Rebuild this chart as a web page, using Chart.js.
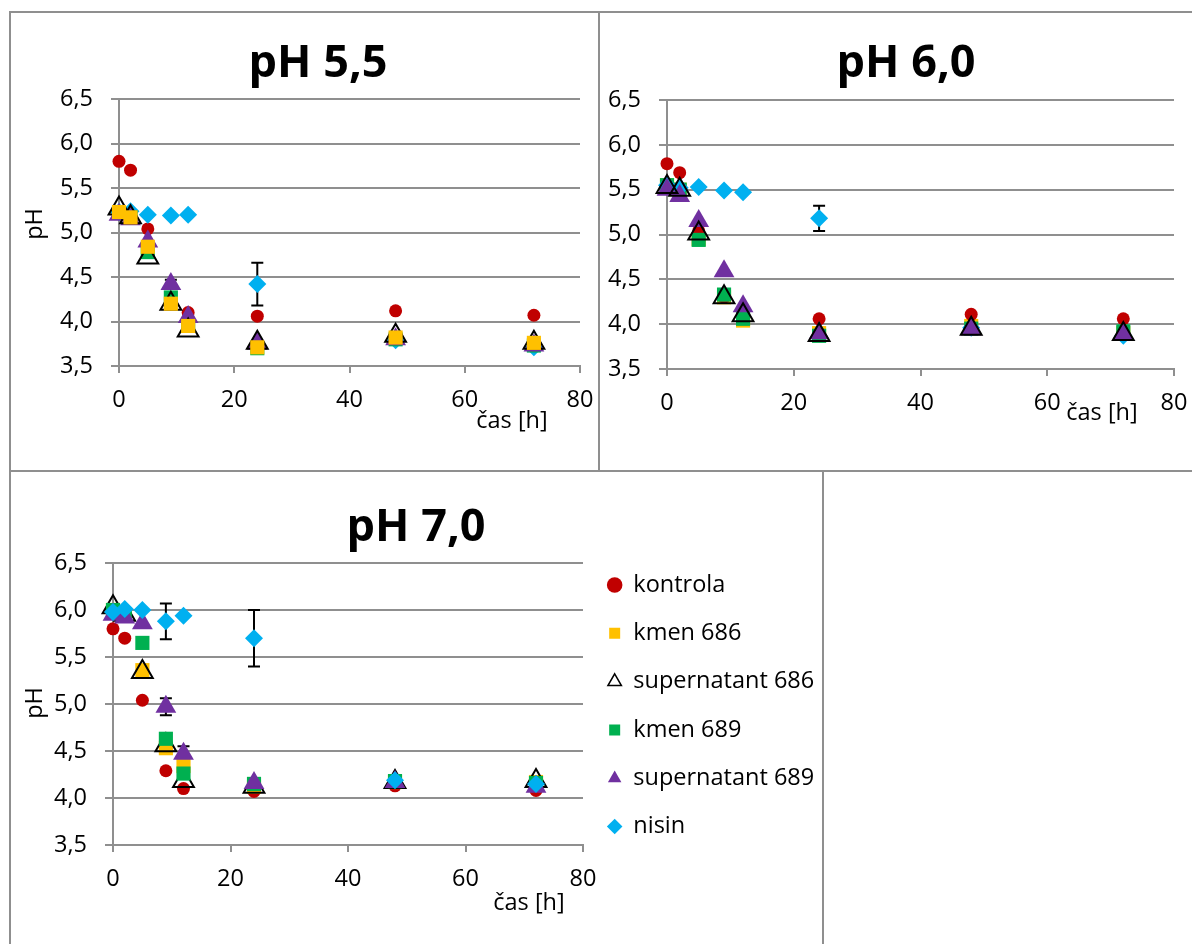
<!DOCTYPE html>
<html>
<head>
<meta charset="utf-8">
<script src="https://cdn.jsdelivr.net/npm/chart.js@4/dist/chart.umd.min.js"></script>
<style>
  body { margin: 0; background: #fff; width: 1192px; height: 944px; position: relative; overflow: hidden; }
  canvas { position: absolute; }
  .line { position: absolute; background: #8f8f8f; z-index: 2; }
</style>
</head>
<body>
<canvas id="c55" width="587" height="457" style="left:11px;top:13px"></canvas>
<canvas id="c60" width="592" height="457" style="left:600px;top:13px"></canvas>
<canvas id="c70" width="1181" height="472" style="left:11px;top:472px"></canvas>

<div class="line" style="left:9px;top:11px;width:1183px;height:2px"></div>
<div class="line" style="left:9px;top:11px;width:2px;height:933px"></div>
<div class="line" style="left:598px;top:11px;width:2px;height:461px"></div>
<div class="line" style="left:9px;top:470px;width:1183px;height:2px"></div>
<div class="line" style="left:822px;top:470px;width:2px;height:474px"></div>

<script>
// sampling times [h]
const hours = [0, 2, 5, 9, 12, 24, 48, 72];
const xTicks = [0, 20, 40, 60, 80];
const yTicks = [3.5, 4.0, 4.5, 5.0, 5.5, 6.0, 6.5];
const seriesNames = ['kontrola', 'kmen 686', 'supernatant 686', 'kmen 689', 'supernatant 689', 'nisin'];

// pH 5,5
const kontrola55 = [5.80, 5.70, 5.04, 4.20, 4.10, 4.06, 4.12, 4.07];
const kmen686_55 = [5.23, 5.17, 4.84, 4.20, 3.95, 3.71, 3.82, 3.76];
const super686_55 = [5.27, 5.17, 4.72, 4.20, 3.90, 3.76, 3.84, 3.76];
const kmen689_55 = [5.22, 5.17, 4.78, 4.27, 3.95, 3.70, 3.80, 3.73];
const super689_55 = [5.20, 5.15, 4.90, 4.42, 4.05, 3.75, 3.80, 3.73];
const nisin55 = [5.23, 5.24, 5.20, 5.19, 5.20, 4.42, 3.79, 3.71];
const super689Err55 = [0, 0, 0, 0.05, 0, 0, 0, 0];
const nisinErr55 = [0, 0, 0, 0, 0, 0.24, 0, 0];

// pH 6,0
const kontrola60 = [5.79, 5.69, 5.04, 4.30, 4.10, 4.06, 4.11, 4.06];
const kmen686_60 = [5.55, 5.50, 4.95, 4.30, 4.04, 3.90, 3.98, 3.90];
const super686_60 = [5.53, 5.50, 5.01, 4.30, 4.10, 3.88, 3.95, 3.89];
const kmen689_60 = [5.55, 5.50, 4.94, 4.33, 4.06, 3.87, 3.95, 3.92];
const super689_60 = [5.50, 5.43, 5.15, 4.59, 4.20, 3.90, 3.94, 3.90];
const nisin60 = [5.55, 5.52, 5.53, 5.49, 5.47, 5.18, 3.96, 3.87];
const nisinErr60 = [0, 0, 0, 0, 0, 0.14, 0, 0];

// pH 7,0
const kontrola70 = [5.80, 5.70, 5.04, 4.29, 4.10, 4.07, 4.13, 4.08];
const kmen686_70 = [6.00, 5.95, 5.36, 4.53, 4.34, 4.12, 4.17, 4.17];
const super686_70 = [6.03, 5.95, 5.34, 4.56, 4.18, 4.12, 4.17, 4.18];
const kmen689_70 = [6.00, 5.95, 5.65, 4.63, 4.26, 4.15, 4.18, 4.16];
const super689_70 = [5.95, 5.92, 5.86, 4.97, 4.47, 4.16, 4.17, 4.12];
const nisin70 = [5.98, 6.01, 6.00, 5.88, 5.94, 5.70, 4.19, 4.15];
const super689Err70 = [0, 0, 0, 0.09, 0.08, 0, 0, 0];
const nisinErr70 = [0, 0, 0, 0.19, 0, 0.30, 0, 0];

const FONT = '"Open Sans", "DejaVu Sans", sans-serif';
const FS = 23.5;
const GRID = '#8f8f8f';

const markers = [
  { pointStyle: 'circle',   radius: 6.5, bg: '#c00000', border: '#c00000', bw: 0 },
  { pointStyle: 'rect',     radius: 10,  bg: '#ffc000', border: '#ffc000', bw: 0 },
  { pointStyle: 'triangle', radius: 12,  bg: 'rgba(0,0,0,0)', border: '#000000', bw: 2 },
  { pointStyle: 'rect',     radius: 10,  bg: '#00b050', border: '#00b050', bw: 0 },
  { pointStyle: 'triangle', radius: 12,  bg: '#7030a0', border: '#7030a0', bw: 0 },
  { pointStyle: 'rectRot',  radius: 9,   bg: '#00b0f0', border: '#00b0f0', bw: 0 }
];

function toPoints(values) {
  return hours.map((h, i) => ({ x: h, y: values[i] }));
}

// drawOrder: lower number is drawn on top
function makeDatasets(series, errors, drawOrder) {
  return series.map((values, i) => ({
    label: seriesNames[i],
    data: toPoints(values),
    errors: errors[i] || null,
    showLine: false,
    clip: false,
    order: drawOrder[i],
    pointStyle: markers[i].pointStyle,
    pointRadius: markers[i].radius,
    pointHoverRadius: markers[i].radius,
    backgroundColor: markers[i].bg,
    borderColor: markers[i].border,
    pointBorderWidth: markers[i].bw,
    borderWidth: markers[i].bw
  }));
}

// vertical error bars with caps, under the markers
const errorBars = {
  id: 'errorBars',
  beforeDatasetsDraw(chart) {
    const { ctx, scales: { x, y } } = chart;
    ctx.save();
    ctx.strokeStyle = '#000';
    ctx.lineWidth = 2;
    chart.data.datasets.forEach(ds => {
      if (!ds.errors) return;
      ds.data.forEach((p, i) => {
        const e = ds.errors[i];
        if (!e) return;
        const px = x.getPixelForValue(p.x);
        const top = y.getPixelForValue(p.y + e);
        const bot = y.getPixelForValue(p.y - e);
        ctx.beginPath();
        ctx.moveTo(px, top); ctx.lineTo(px, bot);
        ctx.moveTo(px - 6, top); ctx.lineTo(px + 6, top);
        ctx.moveTo(px - 6, bot); ctx.lineTo(px + 6, bot);
        ctx.stroke();
      });
    });
    ctx.restore();
  }
};

// panel heading and axis captions
const panelText = {
  id: 'panelText',
  afterDraw(chart, args, opts) {
    const ctx = chart.ctx;
    ctx.save();
    ctx.fillStyle = '#000';
    ctx.textAlign = 'center';
    ctx.textBaseline = 'alphabetic';
    ctx.font = 'bold 45px ' + FONT;
    ctx.fillText(opts.title, opts.titleX, opts.titleY);
    ctx.textBaseline = 'middle';
    ctx.font = FS + 'px ' + FONT;
    ctx.fillText('čas [h]', opts.xLabelX, opts.xLabelY);
    if (opts.yLabel) {
      ctx.translate(opts.yLabelX, opts.yLabelY);
      ctx.rotate(-Math.PI / 2);
      ctx.fillText('pH', 0, 0);
    }
    ctx.restore();
  }
};

// area: left/top/right/bottom of the plot area in canvas pixels
function makeChart(id, datasets, cfg) {
  const canvas = document.getElementById(id);
  const a = cfg.area;
  return new Chart(canvas, {
    type: 'scatter',
    data: { datasets },
    plugins: [errorBars, panelText],
    options: {
      responsive: false,
      animation: false,
      layout: { padding: cfg.padding || 0 },
      plugins: {
        legend: cfg.legend || { display: false },
        tooltip: { enabled: false },
        panelText: cfg.text
      },
      scales: {
        x: {
          type: 'linear', min: 0, max: 80,
          afterBuildTicks: s => { s.ticks = xTicks.map(v => ({ value: v })); },
          afterFit: s => {
            s.height = canvas.height - a.bottom;
            s.paddingLeft = 0;
            s.paddingRight = canvas.width - a.right;
          },
          border: { color: GRID, width: 2 },
          grid: { drawOnChartArea: false, drawTicks: true, tickLength: 7, color: GRID, lineWidth: 2 },
          ticks: { color: '#000', font: { family: FONT, size: FS }, padding: 13 }
        },
        y: {
          type: 'linear', min: 3.5, max: 6.5,
          afterBuildTicks: s => { s.ticks = yTicks.map(v => ({ value: v })); },
          afterFit: s => {
            s.width = a.left;
            s.paddingTop = a.top;
            s.paddingBottom = 0;
          },
          border: { color: GRID, width: 2 },
          grid: { color: GRID, lineWidth: 2, tickLength: 8 },
          ticks: {
            color: '#000', font: { family: FONT, size: FS }, padding: 18,
            callback: v => v.toFixed(1).replace('.', ',')
          }
        }
      }
    }
  });
}

makeChart('c55',
  makeDatasets([kontrola55, kmen686_55, super686_55, kmen689_55, super689_55, nisin55],
    [null, null, null, null, super689Err55, nisinErr55], [6, 1, 2, 4, 3, 5]),
  { area: { left: 108, top: 86, right: 569, bottom: 353 },
    text: { title: 'pH 5,5', titleX: 307, titleY: 64, yLabel: true, yLabelX: 24, yLabelY: 211, xLabelX: 501, xLabelY: 408 } });

makeChart('c60',
  makeDatasets([kontrola60, kmen686_60, super686_60, kmen689_60, super689_60, nisin60],
    [null, null, null, null, null, nisinErr60], [5, 6, 1, 4, 2, 3]),
  { area: { left: 67, top: 87, right: 574, bottom: 356 },
    text: { title: 'pH 6,0', titleX: 306, titleY: 64, yLabel: false, xLabelX: 502, xLabelY: 400 } });

makeChart('c70',
  makeDatasets([kontrola70, kmen686_70, super686_70, kmen689_70, super689_70, nisin70],
    [null, null, null, null, super689Err70, nisinErr70], [6, 5, 4, 3, 2, 1]),
  { area: { left: 102, top: 91, right: 572, bottom: 373 },
    padding: { top: 76.5, right: 0, left: 0, bottom: 0 },
    legend: {
      display: true, position: 'right', align: 'start',
      labels: {
        usePointStyle: true, boxWidth: 13.75, boxHeight: 11, padding: 24.8, color: '#000',
        font: { family: FONT, size: FS },
        sort: (a, b) => a.datasetIndex - b.datasetIndex,
        generateLabels: chart => chart.data.datasets.map((ds, i) => ({
          text: ds.label,
          datasetIndex: i,
          pointStyle: ds.pointStyle,
          fillStyle: i === 2 ? '#ffffff' : ds.backgroundColor,
          strokeStyle: ds.borderColor,
          lineWidth: i === 2 ? 1.5 : 0,
          fontColor: '#000',
          hidden: false
        }))
      }
    },
    text: { title: 'pH 7,0', titleX: 405, titleY: 69, yLabel: true, yLabelX: 24, yLabelY: 231, xLabelX: 518, xLabelY: 431 } });
</script>
</body>
</html>
